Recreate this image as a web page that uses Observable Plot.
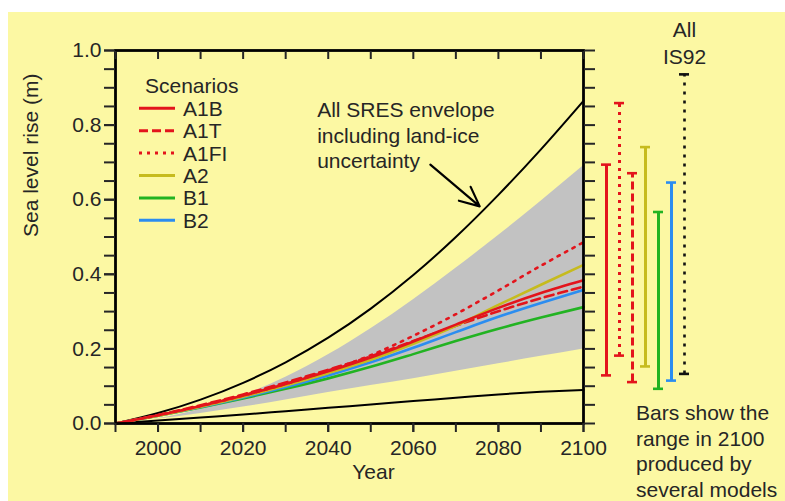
<!DOCTYPE html>
<html>
<head>
<meta charset="utf-8">
<script src="https://cdn.jsdelivr.net/npm/d3@7"></script>
<script src="https://cdn.jsdelivr.net/npm/@observablehq/plot@0.6"></script>
<style>
  html, body { margin: 0; padding: 0; background: #ffffff; }
  #wrap { position: relative; width: 785px; height: 501px; overflow: hidden; font-family: "Liberation Sans", Arial, sans-serif; }
  #bg { position: absolute; left: 8px; top: 12px; right: 0; bottom: 0; background: #fcf8a3; }
  .layer { position: absolute; left: 0; top: 0; }
  #note { position: absolute; left: 636px; top: 400px; font-size: 21px; line-height: 25.5px; color: #262626; white-space: nowrap; }
</style>
</head>
<body>
<div id="wrap">
  <div id="bg"></div>
  <div id="main" class="layer"></div>
  <div id="bars" class="layer"></div>
  <div id="legend" class="layer"></div>
  <div id="note">Bars show the<br>range in 2100<br>produced by<br>several models</div>
</div>
<script>
// ---------- data ----------
const years      = [1990, 2000, 2010, 2020, 2030, 2040, 2050, 2060, 2070, 2080, 2090, 2100];
const envUpper   = [0, 0.028, 0.064, 0.109, 0.164, 0.230, 0.308, 0.398, 0.500, 0.613, 0.735, 0.865];
const envLower   = [0, 0.008, 0.016, 0.024, 0.033, 0.042, 0.051, 0.060, 0.069, 0.078, 0.085, 0.090];
const bandUpper  = [0, 0.013, 0.038, 0.075, 0.124, 0.184, 0.254, 0.332, 0.416, 0.504, 0.596, 0.691];
const bandLower  = [0, 0.012, 0.027, 0.044, 0.063, 0.083, 0.102, 0.120, 0.140, 0.160, 0.180, 0.200];

const A1B  = [0, 0.022, 0.047, 0.075, 0.106, 0.140, 0.177, 0.220, 0.265, 0.310, 0.350, 0.384];
const A1T  = [0, 0.023, 0.049, 0.078, 0.110, 0.144, 0.180, 0.221, 0.262, 0.301, 0.336, 0.367];
const A1FI = [0, 0.022, 0.047, 0.075, 0.106, 0.142, 0.183, 0.235, 0.293, 0.357, 0.423, 0.486];
const A2   = [0, 0.021, 0.045, 0.072, 0.102, 0.135, 0.171, 0.214, 0.262, 0.318, 0.372, 0.425];
const B1   = [0, 0.021, 0.043, 0.067, 0.093, 0.121, 0.152, 0.186, 0.221, 0.254, 0.284, 0.312];
const B2   = [0, 0.021, 0.044, 0.070, 0.098, 0.129, 0.164, 0.203, 0.245, 0.286, 0.323, 0.358];

const scenarioNames  = ["A1B", "A1T", "A1FI", "A2", "B1", "B2"];
const scenarioValues = [A1B, A1T, A1FI, A2, B1, B2];
const scenarioColors = ["#e3141c", "#e3141c", "#e3141c", "#c6bb1e", "#22b322", "#2b8df0"];
const scenarioDash   = [null, "9,5", "2.5,6", null, null, null];
const drawOrder      = ["A1T", "B1", "B2", "A2", "A1B", "A1FI"];

const barNames  = ["A1B", "A1FI", "A1T", "A2", "B1", "B2", "IS92"];
const barLow    = [0.129, 0.182, 0.111, 0.153, 0.093, 0.115, 0.133];
const barHigh   = [0.694, 0.859, 0.671, 0.741, 0.567, 0.646, 0.936];
const barColors = ["#e3141c", "#e3141c", "#e3141c", "#c6bb1e", "#22b322", "#2b8df0", "#111111"];
const barDash   = [null, "3,5", "8,4", null, null, null, "3,6"];

const yMajorTicks = [0, 0.2, 0.4, 0.6, 0.8, 1.0];
const yMinorTicks = [0, 0.05, 0.1, 0.15, 0.2, 0.25, 0.3, 0.35, 0.4, 0.45, 0.5, 0.55, 0.6, 0.65, 0.7, 0.75, 0.8, 0.85, 0.9, 0.95, 1.0];
const xMinorTicks = [1990, 2000, 2010, 2020, 2030, 2040, 2050, 2060, 2070, 2080, 2090, 2100];
const xLabelTicks = [2000, 2020, 2040, 2060, 2080, 2100];

const annotationText = "All SRES envelope\nincluding land-ice\nuncertainty";
const annotation = [{year: 2037.4, value: 0.870, text: annotationText}];
const arrowData  = [{x1: 2064.0, y1: 0.694, x2: 2075.6, y2: 0.582}];

// ---------- tables ----------
const env = years.map((year, i) => ({year, upper: envUpper[i], lower: envLower[i], bHi: bandUpper[i], bLo: bandLower[i]}));
const rows = [];
scenarioNames.forEach((s, k) => years.forEach((year, i) => rows.push({scenario: s, year, value: scenarioValues[k][i]})));
const bars = barNames.map((name, i) => ({name, lo: barLow[i], hi: barHigh[i], color: barColors[i], dash: barDash[i]}));

const font = '"Liberation Sans", Arial, sans-serif';
const ink = "#262626";
const W = 785, H = 501, mT = 50, mB = 78;

const lineMarks = drawOrder.map(s => {
  const k = scenarioNames.indexOf(s);
  return Plot.line(rows.filter(r => r.scenario === s), {
    x: "year", y: "value", stroke: scenarioColors[k], strokeWidth: 2.6,
    strokeDasharray: scenarioDash[k] || undefined, curve: "monotone-x"
  });
});

const blank = () => "";

const main = Plot.plot({
  width: W, height: H,
  marginLeft: 115, marginRight: 202, marginTop: mT, marginBottom: mB,
  style: {fontFamily: font, fontSize: "21px", background: "transparent", color: ink, overflow: "visible"},
  x: {domain: [1990, 2100]},
  y: {domain: [0, 1]},
  marks: [
    Plot.areaY(env, {x: "year", y1: "bLo", y2: "bHi", fill: "#c2c2c2", curve: "monotone-x"}),
    Plot.line(env, {x: "year", y: "upper", stroke: "#000", strokeWidth: 2, curve: "monotone-x"}),
    Plot.line(env, {x: "year", y: "lower", stroke: "#000", strokeWidth: 2, curve: "monotone-x"}),
    ...lineMarks,
    Plot.arrow(arrowData, {x1: "x1", y1: "y1", x2: "x2", y2: "y2", stroke: "#000", strokeWidth: 2.2, headLength: 16, headAngle: 50}),
    Plot.text(annotation, {x: "year", y: "value", text: "text", textAnchor: "start", lineAnchor: "top", lineHeight: 1.214, fontSize: 21, fill: ink}),
    Plot.frame({stroke: "#000", strokeWidth: 2.8}),
    Plot.axisY({ticks: yMajorTicks, tickSize: 11, tickPadding: 3, tickFormat: d3.format(".1f"), label: null, strokeWidth: 2, fontSize: 21}),
    Plot.axisY({ticks: yMinorTicks, tickSize: 11, tickFormat: blank, label: null, strokeWidth: 2}),
    Plot.axisY({anchor: "right", ticks: yMinorTicks, tickSize: 11, tickFormat: blank, label: null, strokeWidth: 2}),
    Plot.axisX({ticks: xLabelTicks, tickSize: 9, tickPadding: 8, tickFormat: d => String(d), label: null, strokeWidth: 2, fontSize: 21}),
    Plot.axisX({ticks: xMinorTicks, tickSize: 9, tickFormat: blank, label: null, strokeWidth: 2}),
    Plot.axisX({anchor: "top", ticks: xMinorTicks, tickSize: -8, tickFormat: blank, label: null, strokeWidth: 2}),
    Plot.text(["Year"], {frameAnchor: "bottom", dx: 24, dy: 41, lineAnchor: "top", fontSize: 21, fill: ink}),
    Plot.text(["Sea level rise (m)"], {frameAnchor: "left", dx: -84, rotate: -90, fontSize: 21, fill: ink})
  ]
});
document.getElementById("main").appendChild(main);

// ---------- range bars at 2100 ----------
const barPlot = Plot.plot({
  width: W, height: H,
  marginLeft: 596.75, marginRight: 92.55, marginTop: mT, marginBottom: mB,
  style: {fontFamily: font, fontSize: "21px", background: "transparent", color: ink, overflow: "visible"},
  x: {type: "band", domain: barNames, padding: 0.25, axis: null},
  y: {domain: [0, 1], axis: null},
  marks: [
    ...bars.map(b => Plot.ruleX([b], {x: "name", y1: "lo", y2: "hi", stroke: b.color, strokeWidth: b.name === "IS92" ? 2.6 : 3, strokeDasharray: b.dash || undefined})),
    Plot.tickY(bars, {x: "name", y: "lo", stroke: "color", strokeWidth: 2.6}),
    Plot.tickY(bars, {x: "name", y: "hi", stroke: "color", strokeWidth: 2.6}),
    Plot.text(bars.filter(b => b.name === "IS92"), {x: "name", y: "hi", text: () => "All\nIS92", lineAnchor: "top", dy: -57, lineHeight: 1.286, fontSize: 21, fill: ink})
  ]
});
document.getElementById("bars").appendChild(barPlot);

// ---------- legend ----------
const leg = d3.select("#legend").append("svg").attr("width", W).attr("height", H)
  .style("font-family", font).style("font-size", "21px");
leg.append("text").attr("x", 145).attr("y", 92.7).attr("fill", ink).text("Scenarios");
scenarioNames.forEach((s, i) => {
  const yy = 108.3 + i * 22.4;
  leg.append("line").attr("x1", 139).attr("x2", 175).attr("y1", yy).attr("y2", yy)
    .attr("stroke", scenarioColors[i]).attr("stroke-width", 3)
    .attr("stroke-dasharray", scenarioDash[i] ? (s === "A1T" ? "9,4" : "3,5") : null);
  leg.append("text").attr("x", 183).attr("y", yy).attr("dy", "0.36em").attr("fill", ink).text(s);
});
</script>
</body>
</html>
